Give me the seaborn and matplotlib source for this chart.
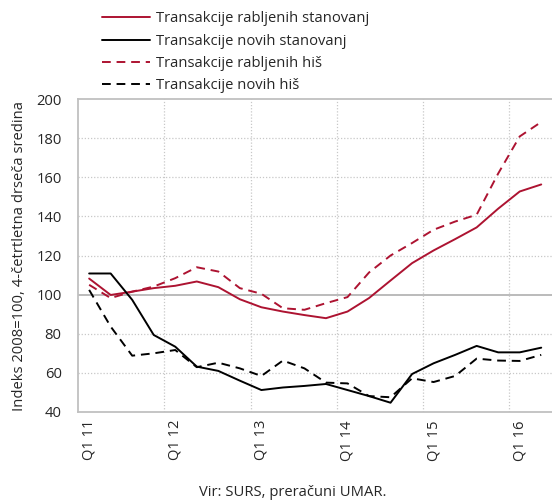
import numpy as np
import pandas as pd
import matplotlib
matplotlib.use("Agg")
import matplotlib.pyplot as plt
import seaborn as sns
from matplotlib.lines import Line2D

# quarters Q1 2011 .. Q2 2016
quarters = [f"Q{q} {y}" for y in range(11, 17) for q in range(1, 5)][:22]

used_flats = [108.2, 99.8, 101.5, 103.3, 104.5, 106.7, 103.8, 97.6, 93.5, 91.3, 89.5,
              87.9, 91.3, 98.2, 107.2, 116.1, 122.6, 128.4, 134.4, 144.0, 152.8, 156.4]
new_flats = [110.8, 110.8, 97.3, 79.3, 73.3, 63.1, 60.9, 55.9, 51.1, 52.4, 53.2,
             54.2, 51.1, 48.0, 44.6, 59.3, 64.8, 69.1, 73.7, 70.4, 70.4, 72.8]
used_houses = [105.0, 98.2, 101.5, 104.1, 108.4, 114.0, 111.8, 103.3, 100.4, 93.0, 92.2,
               95.6, 98.7, 111.3, 120.0, 126.4, 133.2, 137.4, 140.9, 162.0, 181.0, 188.4]
new_houses = [102.4, 83.6, 68.7, 69.9, 71.6, 62.8, 65.1, 62.2, 58.3, 66.2, 62.2,
              54.9, 54.5, 48.0, 47.4, 57.1, 55.2, 58.3, 67.2, 66.2, 66.0, 69.1]

labels = ["Transakcije rabljenih stanovanj", "Transakcije novih stanovanj",
          "Transakcije rabljenih hiš", "Transakcije novih hiš"]

red = "#ad1331"
styles = [(red, "-"), ("black", "-"), (red, (0, (4.5, 3))), ("black", (0, (4.5, 3)))]

sns.set_style("white")
plt.rcParams["font.family"] = ["Open Sans", "DejaVu Sans"]
fs = 10.6

fig = plt.figure(figsize=(5.52, 5.03), dpi=100)
ax = fig.add_axes([0.142, 0.1815, 0.858, 0.621])

x = np.arange(len(quarters))
handles = []
for vals, lab, (col, ls) in zip([used_flats, new_flats, used_houses, new_houses], labels, styles):
    sns.lineplot(x=x, y=vals, ax=ax, color=col, linewidth=1.4, linestyle=ls)
    handles.append(Line2D([0], [0], color=col, linestyle=ls, linewidth=1.4, label=lab))

ax.set_xlim(-0.5, 21.5)
ax.set_ylim(40, 200)
ax.set_yticks(range(40, 201, 20))
ax.set_xticks(x[::4])
ax.set_xticklabels([quarters[i] for i in x[::4]], rotation=90, fontsize=fs)
ax.tick_params(axis="y", labelsize=fs, length=0, pad=12)
ax.tick_params(axis="x", length=0, pad=6)

for yv in range(60, 200, 20):
    if yv == 100:
        ax.axhline(yv, color="#b5b5b5", lw=1.3, zorder=0)
    else:
        ax.axhline(yv, color="#c8c8c8", lw=0.9, ls=(0, (1, 1.5)), zorder=0)
for xv in [3.5, 7.5, 11.5, 15.5, 19.5]:
    ax.axvline(xv, color="#c8c8c8", lw=0.9, ls=(0, (1, 1.5)), zorder=0)

for side in ["top", "left", "bottom"]:
    ax.spines[side].set_color("#c0c0c0")
    ax.spines[side].set_linewidth(1.3)
ax.spines["right"].set_visible(False)

ax.set_ylabel("Indeks 2008=100, 4-četrtletna drseča sredina", fontsize=fs, labelpad=7)
ax.set_xlabel("")

fig.legend(handles=handles, loc="upper left", bbox_to_anchor=(0.168, 0.995), frameon=False,
           fontsize=fs, handlelength=3.3, labelspacing=0.5, handletextpad=0.4,
           borderaxespad=0.2)

fig.text(0.53, 0.02, "Vir: SURS, preračuni UMAR.", ha="center", va="center", fontsize=fs)

fig.savefig("out.png", dpi=100)
